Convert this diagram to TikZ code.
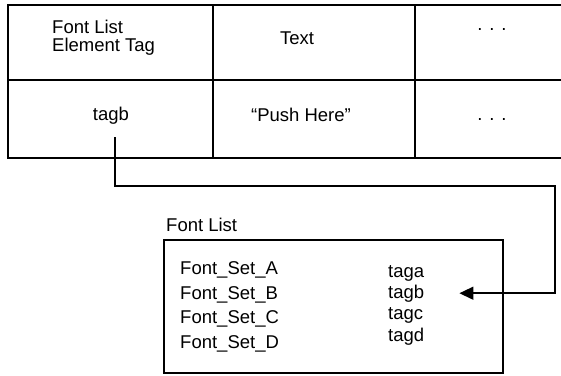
\documentclass[tikz,border=0pt]{standalone}
\usepackage{fontspec}
\setmainfont{Liberation Sans}
\usetikzlibrary{arrows.meta}

\begin{document}
\begin{tikzpicture}[
    x=1pt, y=-1pt,
    label/.style={inner sep=0pt, anchor=base, font=\fontsize{18.5}{18.5}\selectfont},
    entry/.style={label, anchor=base west},
    grid/.style={line width=2pt},
    link/.style={line width=1.5pt},
    >={Triangle[length=14pt, width=13pt]}
]
    \useasboundingbox (0,0) rectangle (561,375);

    % --- table lines (right side left open) ---
    \draw[grid] (563,5) -- (8,5) -- (8,158) -- (563,158);
    \draw[grid] (8,80) -- (563,80);
    \draw[grid] (213,5) -- (213,158);
    \draw[grid] (415,5) -- (415,158);

    % --- header row ---
    \node[entry] (cellfont) at (52,33) {Font List};
    \node[entry] (celltag) at (52,51) {Element Tag};
    \node[label] (celltext) at (297,44) {Text};
    \node[label] (celldots) at (492,30) {. . .};

    % --- second row ---
    \node[label] (celltagb) at (111,120) {tagb};
    \node[label] (cellpush) at (301,121) {“Push Here”};
    \node[label] (rowdots) at (492,120) {. . .};

    % --- font list box ---
    \node[entry] (listtitle) at (166,231) {Font List};
    \node[draw, grid, inner sep=0pt, anchor=north west,
          minimum width=339pt, minimum height=133pt] (fontlist) at (163,239) {};
    \foreach \s/\y in {A/274, B/299, C/323, D/348}
        \node[entry] (set\s) at (180,\y) {Font\_Set\_\s};
    \foreach \t/\y in {a/277, b/298, c/319, d/341}
        \node[entry] (tag\t) at (388,\y) {tag\t};

    % --- connector from the tag cell to the list ---
    \coordinate (bend) at (555,186);
    \draw[link, ->] ([xshift=4pt, yshift=-13pt]celltagb.south) |- (bend)
        |- ([xshift=35pt]tagb.east);

\end{tikzpicture}
\end{document}
